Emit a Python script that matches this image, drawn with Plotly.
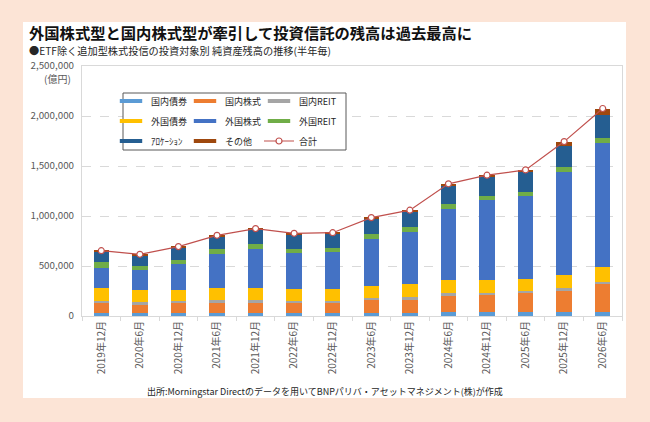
import plotly.graph_objects as go

# ---------------- data (億円) ----------------
periods = ["2019年12月", "2020年6月", "2020年12月", "2021年6月", "2021年12月", "2022年6月",
           "2022年12月", "2023年6月", "2023年12月", "2024年6月", "2024年12月", "2025年6月",
           "2025年12月", "2026年6月"]

domestic_bond   = [30000, 27000, 27000, 27000, 34000, 27000, 27000, 27000, 34000, 37000, 37000, 37000, 37000, 44000]
domestic_equity = [101000, 88000, 101000, 108000, 101000, 101000, 104000, 131000, 128000, 165000, 169000, 189000, 216000, 283000]
domestic_reit   = [23000, 27000, 23000, 24000, 27000, 24000, 24000, 24000, 30000, 27000, 24000, 20000, 24000, 17000]
foreign_bond    = [128000, 118000, 108000, 118000, 118000, 115000, 115000, 121000, 131000, 135000, 135000, 125000, 138000, 145000]
foreign_equity  = [202000, 196000, 263000, 341000, 395000, 361000, 368000, 469000, 513000, 708000, 793000, 827000, 1029000, 1242000]
foreign_reit    = [54000, 40000, 40000, 51000, 44000, 44000, 40000, 47000, 54000, 51000, 44000, 47000, 44000, 47000]
allocation      = [108000, 111000, 125000, 125000, 142000, 142000, 145000, 152000, 155000, 182000, 189000, 196000, 209000, 236000]
other           = [7000, 10000, 7000, 13000, 13000, 13000, 10000, 13000, 13000, 17000, 17000, 20000, 47000, 61000]

series = [
    ("国内債券", domestic_bond, "#5B9BD5", "legend"),
    ("国内株式", domestic_equity, "#ED7D31", "legend"),
    ("国内REIT", domestic_reit, "#A5A5A5", "legend"),
    ("外国債券", foreign_bond, "#FFC000", "legend2"),
    ("外国株式", foreign_equity, "#4472C4", "legend2"),
    ("外国REIT", foreign_reit, "#70AD47", "legend2"),
    ("ｱﾛｹｰｼｮﾝ", allocation, "#255E91", "legend3"),
    ("その他", other, "#9E480E", "legend3"),
]
total = [sum(v) for v in zip(*[s[1] for s in series])]

y_ticks = [0, 500000, 1000000, 1500000, 2000000, 2500000]

# ---------------- geometry helpers ----------------
W, H = 650, 422
L, R, T, B = 82, 622, 66, 316


def px(x):
    return (x - L) / (R - L)


def py(y):
    return (B - y) / (B - T)


FONT = "Noto Sans CJK JP"
TXT = "#595959"

fig = go.Figure()

for i, (name, vals, color, lg) in enumerate(series):
    fig.add_trace(go.Bar(
        x=periods, y=vals, name=name, marker=dict(color=color, line=dict(width=0)),
        showlegend=False, legendgroup=name,
    ))
    # legend entry (Excel-like thick dash)
    fig.add_trace(go.Scatter(
        x=[None], y=[None], mode="markers", name=name, legendgroup=name, legend=lg,
        legendwidth=(55 if i % 3 == 2 else 29),
        marker=dict(symbol="line-ew", size=16, color=color, line=dict(color=color, width=4)),
        hoverinfo="skip",
    ))

fig.add_trace(go.Scatter(
    x=periods, y=total, name="合計", mode="lines+markers", legend="legend3", legendwidth=55,
    line=dict(color="#C0504D", width=1.2),
    marker=dict(symbol="circle", size=6, color="white", line=dict(color="#C0504D", width=1.2)),
))

legend_common = dict(
    orientation="h", xanchor="left", yanchor="middle", x=px(111),
    bgcolor="rgba(0,0,0,0)", borderwidth=0, entrywidth=29, entrywidthmode="pixels",
    font=dict(family=FONT, size=9, color="#262626"), itemclick=False,
)

fig.update_layout(
    width=W, height=H,
    margin=dict(l=L, r=W - R, t=T, b=H - B, pad=0),
    paper_bgcolor="#FCE4D6", plot_bgcolor="white",
    barmode="stack", bargap=0.6,
    font=dict(family=FONT, size=10, color=TXT),
    legend=dict(legend_common, y=py(101)),
    legend2=dict(legend_common, y=py(121)),
    legend3=dict(legend_common, y=py(141)),
    xaxis=dict(
        type="category", tickangle=-90, showline=True, mirror=True, linecolor="#D9D9D9",
        linewidth=1, ticks="outside", ticklen=4, tickcolor="#D9D9D9", tickson="boundaries",
        showgrid=False, tickfont=dict(family=FONT, size=10, color=TXT), range=[-0.5, 13.5],
    ),
    yaxis=dict(
        range=[0, 2500000], tickvals=y_ticks, tickformat=",", showline=True, mirror=True,
        linecolor="#D9D9D9", linewidth=1, showgrid=True, gridcolor="#D9D9D9", griddash="dash",
        gridwidth=1, zeroline=False, ticks="", ticklabelstandoff=5,
        tickfont=dict(family=FONT, size=9.8, color=TXT),
    ),
    shapes=[
        dict(type="rect", xref="paper", yref="paper", x0=px(23), x1=px(626), y0=py(398), y1=py(22),
             fillcolor="white", line=dict(width=0), layer="below"),
        dict(type="rect", xref="paper", yref="paper", x0=px(123), x1=px(346), y0=py(150), y1=py(93),
             fillcolor="white", line=dict(color="#595959", width=1), layer="above"),
    ],
    annotations=[
        dict(text="<b>外国株式型と国内株式型が牽引して投資信託の残高は過去最高に</b>", xref="paper", yref="paper",
             x=px(27), y=py(32), xanchor="left", yanchor="middle", showarrow=False,
             font=dict(family=FONT, size=15.3, color="#111111")),
        dict(text="●ETF除く追加型株式投信の投資対象別 純資産残高の推移(半年毎)", xref="paper", yref="paper",
             x=px(27), y=py(51), xanchor="left", yanchor="middle", showarrow=False,
             font=dict(family=FONT, size=10.2, color="#262626")),
        dict(text="(億円)", xref="paper", yref="paper", x=px(57), y=py(78), xanchor="center",
             yanchor="middle", showarrow=False, font=dict(family=FONT, size=10, color=TXT)),
        dict(text="出所:Morningstar Directのデータを用いてBNPパリバ・アセットマネジメント(株)が作成",
             xref="paper", yref="paper", x=px(325), y=py(391), xanchor="center", yanchor="middle",
             showarrow=False, font=dict(family=FONT, size=9, color="#262626")),
    ],
)

fig.write_html("out.html")
